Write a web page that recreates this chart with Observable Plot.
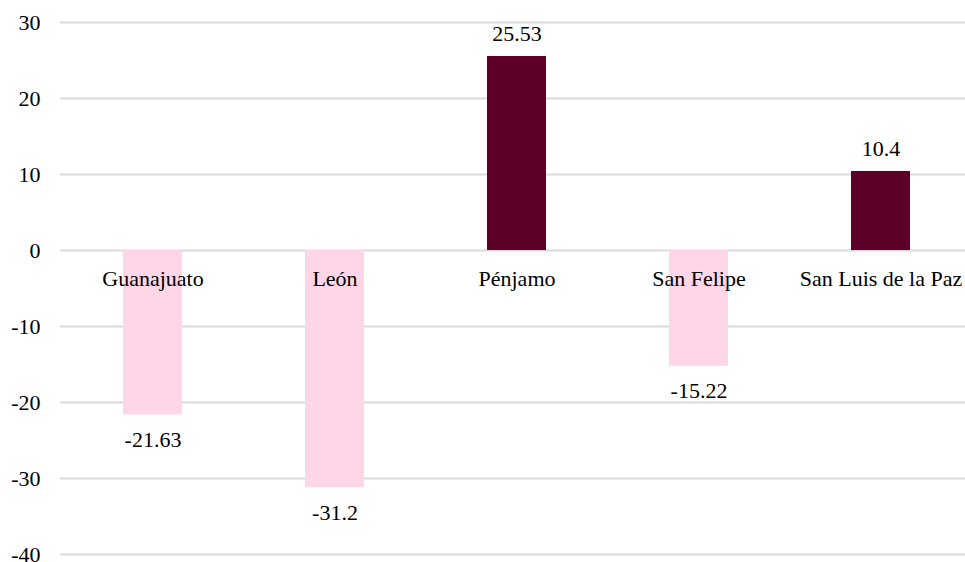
<!DOCTYPE html>
<html>
<head>
<meta charset="utf-8">
<script src="https://cdn.jsdelivr.net/npm/d3@7"></script>
<script src="https://cdn.jsdelivr.net/npm/@observablehq/plot@0.6"></script>
<style>
  html, body { margin: 0; padding: 0; background: #fff; }
  svg { display: block; }
</style>
</head>
<body>
<div id="chart"></div>
<script>
const categories = ["Guanajuato", "León", "Pénjamo", "San Felipe", "San Luis de la Paz"];
const values = [-21.63, -31.2, 25.53, -15.22, 10.4];
const valueLabels = ["-21.63", "-31.2", "25.53", "-15.22", "10.4"];
const yTicks = [-40, -30, -20, -10, 0, 10, 20, 30];

const data = categories.map((c, i) => ({ cat: c, value: values[i], label: valueLabels[i] }));
const FONT = "'Liberation Serif', 'Times New Roman', serif";

const chart = Plot.plot({
  width: 965,
  height: 562,
  marginLeft: 60,
  marginRight: 0,
  marginTop: 22,
  marginBottom: 8,
  style: { fontFamily: FONT, fontSize: "22px", color: "#000", background: "#fff" },
  x: { domain: categories, range: [60, 972.5], paddingInner: 0.677, paddingOuter: 0.3385, align: 0.5, axis: null },
  y: { domain: [-40, 30], ticks: yTicks, tickFormat: d => String(d), tickSize: 0, tickPadding: 20, label: null },
  marks: [
    Plot.ruleY(yTicks, { stroke: "#d9d9d9", strokeWidth: 2 }),
    Plot.axisY({ ticks: yTicks, tickFormat: d => String(d), tickSize: 0, tickPadding: 20, label: null, fontSize: 22, fill: "#000" }),
    Plot.barY(data, { x: "cat", y: "value", fill: d => d.value < 0 ? "#ffd5e8" : "#5d0029" }),
    Plot.text(data, { x: "cat", y: 0, text: "cat", dy: 28, fontSize: 22, fill: "#000" }),
    Plot.text(data.filter(d => d.value < 0), { x: "cat", y: "value", text: "label", dy: 25, fontSize: 22, fill: "#000" }),
    Plot.text(data.filter(d => d.value >= 0), { x: "cat", y: "value", text: "label", dy: -23, fontSize: 22, fill: "#000" })
  ]
});
document.getElementById("chart").appendChild(chart);
</script>
</body>
</html>
